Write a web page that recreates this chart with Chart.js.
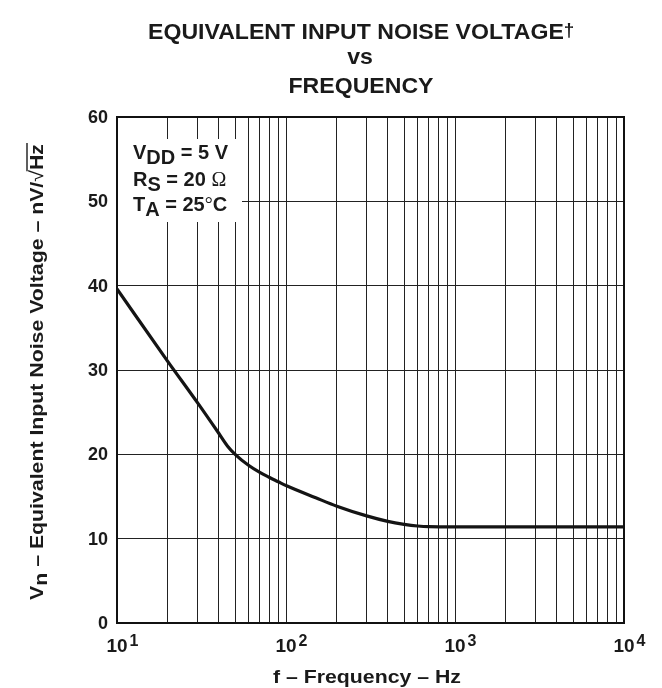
<!DOCTYPE html>
<html>
<head>
<meta charset="utf-8">
<script src="https://cdn.jsdelivr.net/npm/chart.js@4/dist/chart.umd.min.js"></script>
<style>
  html, body { margin: 0; padding: 0; background: #fff; }
  canvas { display: block; }
</style>
</head>
<body>
<canvas id="noiseChart" width="662" height="688"></canvas>
<script>
// curve (Hz, nV/rtHz)
var freq  = [10, 20, 30, 40, 45, 50, 60, 70, 80, 90, 100, 150, 200, 300, 400, 500, 600, 700, 1000, 10000];
var noise = [39.6, 31.0, 26.1, 22.5, 21.0, 20.0, 18.7, 17.85, 17.25, 16.75, 16.3, 14.85, 13.85, 12.7, 12.05, 11.7, 11.5, 11.42, 11.4, 11.4];

// grid / tick values
var gridFreqs = [10, 20, 30, 40, 50, 60, 70, 80, 90,
                 100, 200, 300, 400, 500, 600, 700, 800, 900,
                 1000, 2000, 3000, 4000, 5000, 6000, 7000, 8000, 9000, 10000];
var decadeValues = [10, 100, 1000, 10000];
var decadeExps = ['1', '2', '3', '4'];
var yTicks = [0, 10, 20, 30, 40, 50, 60];

var titleLines = ['EQUIVALENT INPUT NOISE VOLTAGE', 'vs', 'FREQUENCY'];
var xTitle = 'f \u2013 Frequency \u2013 Hz';

var SANS = '"Liberation Sans", Arial, Helvetica, sans-serif';
var SERIF = '"Liberation Serif", "Times New Roman", serif';
function bold(px) { return 'bold ' + px + 'px ' + SANS; }

// draw a list of [text, font, dy] pieces one after another
function runsWidth(ctx, runs) {
    var w = 0;
    runs.forEach(function(r) { ctx.font = r[1]; w += ctx.measureText(r[0]).width; });
    return w;
}
function drawRuns(ctx, x, y, runs) {
    runs.forEach(function(r) {
        ctx.font = r[1];
        ctx.fillText(r[0], x, y + r[2]);
        x += ctx.measureText(r[0]).width;
    });
    return x;
}
// centered text, a bit wider than Liberation Sans (datasheet font runs wide)
function wideText(ctx, text, cx, y, font, sx) {
    ctx.save();
    ctx.font = font;
    ctx.textAlign = 'center';
    ctx.translate(cx, y);
    ctx.scale(sx, 1);
    ctx.fillText(text, 0, 0);
    ctx.restore();
}

var textPlugin = {
    id: 'datasheetText',
    beforeDatasetsDraw: function(chart) {
        // white box behind the conditions legend
        var ctx = chart.ctx;
        ctx.save();
        ctx.fillStyle = '#fff';
        ctx.fillRect(chart.chartArea.left + 1, 139, 242 - chart.chartArea.left - 1, 222 - 139);
        ctx.restore();
    },
    afterDraw: function(chart) {
        var ctx = chart.ctx;
        var area = chart.chartArea;
        var xs = chart.scales.x, ys = chart.scales.y;
        ctx.save();

        // frame
        ctx.strokeStyle = '#111';
        ctx.lineWidth = 2;
        ctx.strokeRect(area.left, area.top, area.right - area.left, area.bottom - area.top);

        ctx.fillStyle = '#1a1a1a';
        ctx.textBaseline = 'alphabetic';

        // title
        ctx.save();
        ctx.textAlign = 'left';
        ctx.translate(148, 39);
        ctx.scale(1.05, 1);
        drawRuns(ctx, 0, 0, [[titleLines[0], bold(22), 0], ['\u2020', bold(18), -3]]);
        ctx.restore();
        wideText(ctx, titleLines[1], 360, 64, bold(22), 1.05);
        wideText(ctx, titleLines[2], 361, 93, bold(22), 1.05);

        // y tick labels
        ctx.textAlign = 'right';
        ctx.textBaseline = 'middle';
        ctx.font = bold(18);
        yTicks.forEach(function(v) {
            ctx.fillText(String(v), 108, ys.getPixelForValue(v) + 1);
        });

        // x decade labels 10^n
        ctx.textBaseline = 'alphabetic';
        ctx.textAlign = 'left';
        decadeValues.forEach(function(v, i) {
            var px = xs.getPixelForValue(v);
            ctx.font = bold(19);
            var bw = ctx.measureText('10').width;
            ctx.fillText('10', px - bw / 2, 652);
            ctx.font = bold(16);
            ctx.fillText(decadeExps[i], px + bw / 2 + 2, 646);
        });

        // x axis title
        wideText(ctx, xTitle, 367, 683, bold(19), 1.12);

        // y axis title (rotated, with subscript and radical)
        ctx.textAlign = 'left';
        var yRuns = [
            ['V', bold(19), 0],
            ['n', bold(19), 4],
            [' \u2013 Equivalent Input Noise Voltage \u2013 nV/', bold(19), 0]
        ];
        var rootRun = ['\u221A', '19px ' + SANS, 0];
        var hzRun = ['Hz', bold(19), 0];
        var sx = 1.12;
        var total = (runsWidth(ctx, yRuns) + runsWidth(ctx, [rootRun, hzRun])) * sx;
        ctx.translate(43, 372);
        ctx.rotate(-Math.PI / 2);
        ctx.translate(-total / 2, 0);
        ctx.scale(sx, 1);
        var xr = drawRuns(ctx, 0, 0, yRuns);
        var xh = drawRuns(ctx, xr, 0, [rootRun]);
        var xe = drawRuns(ctx, xh, 0, [hzRun]);
        ctx.strokeStyle = '#1a1a1a';
        ctx.lineWidth = 1.4;
        ctx.beginPath();
        ctx.moveTo(xh - 1, -16);
        ctx.lineTo(xe + 1, -16);
        ctx.stroke();
        ctx.setTransform(1, 0, 0, 1, 0, 0);

        // test conditions
        var condX = 133;
        drawRuns(ctx, condX, 159, [['V', bold(20), 0], ['DD', bold(20), 5], [' = 5 V', bold(20), 0]]);
        drawRuns(ctx, condX, 186, [['R', bold(20), 0], ['S', bold(20), 5], [' = 20 ', bold(20), 0], ['\u03A9', '20px ' + SERIF, 0]]);
        drawRuns(ctx, condX, 211, [['T', bold(20), 0], ['A', bold(20), 5], [' = 25', bold(20), 0], ['\u00B0', '20px ' + SERIF, 0], ['C', bold(20), 0]]);

        ctx.restore();
    }
};

var ctx = document.getElementById('noiseChart').getContext('2d');
new Chart(ctx, {
    type: 'line',
    data: {
        datasets: [{
            data: freq.map(function(f, i) { return { x: f, y: noise[i] }; }),
            borderColor: '#141414',
            borderWidth: 3.2,
            pointRadius: 0,
            cubicInterpolationMode: 'monotone',
            fill: false
        }]
    },
    options: {
        responsive: false,
        animation: false,
        devicePixelRatio: 1,
        layout: { padding: { left: 117, right: 38, top: 117, bottom: 65 } },
        plugins: {
            legend: { display: false },
            title: { display: false },
            tooltip: { enabled: false }
        },
        scales: {
            x: {
                type: 'logarithmic',
                min: 10,
                max: 10000,
                afterBuildTicks: function(scale) {
                    scale.ticks = gridFreqs.map(function(v) { return { value: v }; });
                },
                ticks: { display: false, autoSkip: false },
                grid: { color: '#222', lineWidth: 1, drawTicks: false },
                border: { display: false }
            },
            y: {
                type: 'linear',
                min: 0,
                max: 60,
                afterBuildTicks: function(scale) {
                    scale.ticks = yTicks.map(function(v) { return { value: v }; });
                },
                ticks: { display: false },
                grid: { color: '#222', lineWidth: 1, drawTicks: false },
                border: { display: false }
            }
        }
    },
    plugins: [textPlugin]
});
</script>
</body>
</html>
